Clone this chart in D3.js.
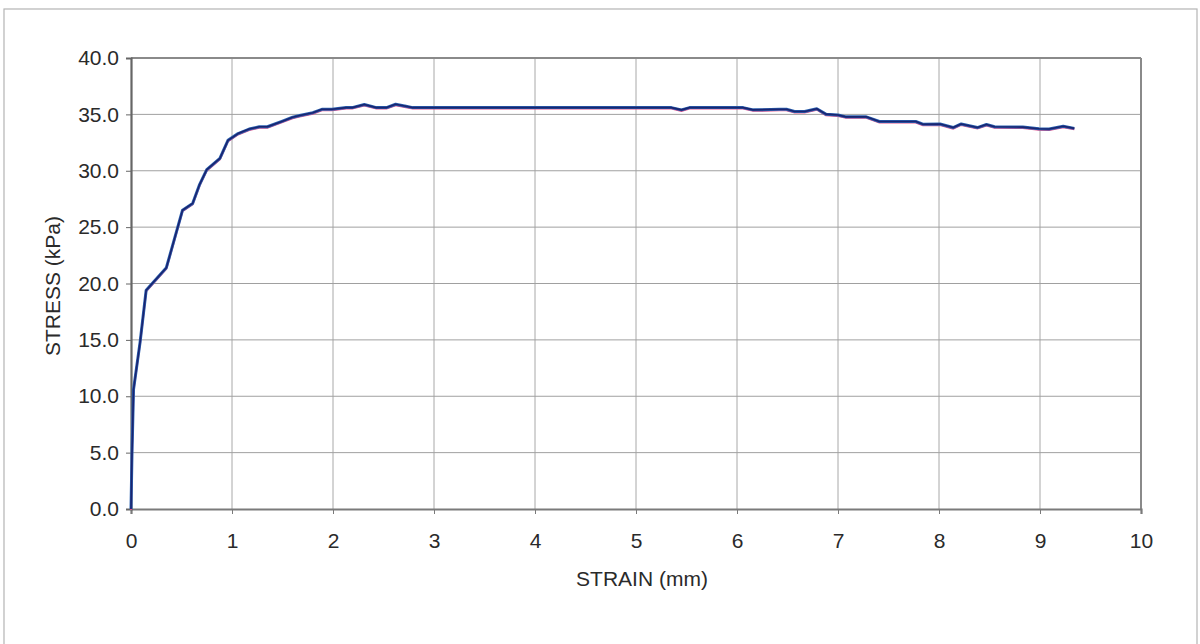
<!DOCTYPE html>
<html>
<head>
<meta charset="utf-8">
<script src="https://cdn.jsdelivr.net/npm/d3@7"></script>
<style>
  html, body { margin: 0; padding: 0; background: #fff; }
  svg { display: block; }
  text { font-family: "Liberation Sans", Arial, sans-serif; fill: #2a2a2a; }
</style>
</head>
<body>
<svg id="chart" width="1200" height="644"></svg>
<script>
// Data
const strain = [0, 0.01, 0.025, 0.09, 0.15, 0.35, 0.51, 0.61, 0.68, 0.75, 0.88, 0.96, 1.06, 1.17, 1.27, 1.35,
  1.50, 1.60, 1.67, 1.80, 1.89, 1.99, 2.13, 2.19, 2.31, 2.43, 2.53, 2.62, 2.71, 2.79, 3.5, 4.5, 5.35, 5.45,
  5.53, 6.06, 6.16, 6.42, 6.49, 6.57, 6.67, 6.79, 6.88, 7.00, 7.08, 7.28, 7.41, 7.77, 7.84, 8.01, 8.14,
  8.22, 8.38, 8.47, 8.55, 8.83, 8.99, 9.09, 9.23, 9.34];
const stress = [0, 5.0, 10.6, 14.8, 19.4, 21.4, 26.5, 27.1, 28.8, 30.1, 31.1, 32.7, 33.3, 33.7, 33.9, 33.9,
  34.4, 34.75, 34.9, 35.15, 35.45, 35.45, 35.6, 35.6, 35.87, 35.6, 35.6, 35.9, 35.75, 35.6, 35.6, 35.6, 35.6, 35.4,
  35.6, 35.6, 35.4, 35.45, 35.45, 35.25, 35.25, 35.5, 35.02, 34.95, 34.78, 34.78, 34.37, 34.37, 34.13, 34.15, 33.83,
  34.15, 33.83, 34.1, 33.9, 33.87, 33.73, 33.7, 33.95, 33.76];
const xTicks = [0, 1, 2, 3, 4, 5, 6, 7, 8, 9, 10];
const yTicks = [0, 5, 10, 15, 20, 25, 30, 35, 40];
const xTitle = "STRAIN (mm)";
const yTitle = "STRESS (kPa)";

const svg = d3.select("#chart");
const x = d3.scaleLinear().domain([0, 10]).range([131, 1141]);
const y = d3.scaleLinear().domain([0, 40]).range([509, 58]);
const FS = 21;

// outer frame
svg.append("rect").attr("x", 4).attr("y", 9).attr("width", 1193).attr("height", 700)
  .attr("fill", "none").attr("stroke", "#b4b4b4").attr("stroke-width", 1.2);

// gridlines
svg.append("g").selectAll("line").data(xTicks.filter(d => d > 0 && d < 10)).join("line")
  .attr("x1", d => x(d)).attr("x2", d => x(d)).attr("y1", y(40)).attr("y2", y(0))
  .attr("stroke", "#a8a8a8").attr("stroke-width", 1);
svg.append("g").selectAll("line").data(yTicks.filter(d => d > 0 && d < 40)).join("line")
  .attr("x1", x(0)).attr("x2", x(10)).attr("y1", d => y(d)).attr("y2", d => y(d))
  .attr("stroke", "#a0a0a0").attr("stroke-width", 1);

// plot border
svg.append("line").attr("x1", x(0)).attr("x2", x(10)).attr("y1", y(40)).attr("y2", y(40))
  .attr("stroke", "#8a8a8a").attr("stroke-width", 2);
svg.append("line").attr("x1", x(10)).attr("x2", x(10)).attr("y1", y(40)).attr("y2", y(0))
  .attr("stroke", "#8a8a8a").attr("stroke-width", 2);

// axes
const xAxis = d3.axisBottom(x).tickValues(xTicks).tickSize(5).tickPadding(19).tickFormat(d3.format("d"));
const gx = svg.append("g").attr("transform", `translate(0,${y(0)})`).call(xAxis);
gx.select(".domain").attr("stroke", "#7a7a7a").attr("stroke-width", 2.2);
gx.selectAll(".tick line").attr("stroke", "#7a7a7a");
gx.selectAll("text").attr("font-size", FS).attr("font-family", "Liberation Sans, Arial, sans-serif").attr("fill", "#2a2a2a");

const yAxis = d3.axisLeft(y).tickValues(yTicks).tickSize(5).tickPadding(7).tickFormat(d3.format(".1f"));
const gy = svg.append("g").attr("transform", `translate(${x(0)},0)`).call(yAxis);
gy.select(".domain").attr("stroke", "#666").attr("stroke-width", 2.2);
gy.selectAll(".tick line").attr("stroke", "#666");
gy.selectAll("text").attr("font-size", FS).attr("font-family", "Liberation Sans, Arial, sans-serif").attr("fill", "#2a2a2a");

// axis titles
svg.append("text").attr("x", 642).attr("y", 586).attr("text-anchor", "middle")
  .attr("font-size", FS).text(xTitle);
svg.append("text").attr("transform", "translate(60,286) rotate(-90)").attr("text-anchor", "middle")
  .attr("font-size", FS).text(yTitle);

// curve
const pts = strain.map((s, i) => [s, stress[i]]);
const line = d3.line().x(d => x(d[0])).y(d => y(d[1]));
svg.append("path").datum(pts).attr("d", line).attr("fill", "none")
  .attr("stroke", "#e0508a").attr("stroke-width", 2).attr("transform", "translate(0,1)");
svg.append("path").datum(pts).attr("d", line).attr("fill", "none")
  .attr("stroke", "#2a62b0").attr("stroke-width", 3).attr("stroke-linejoin", "round");
svg.append("path").datum(pts).attr("d", line).attr("fill", "none")
  .attr("stroke", "#1a2470").attr("stroke-width", 1.6).attr("stroke-linejoin", "round");
</script>
</body>
</html>
